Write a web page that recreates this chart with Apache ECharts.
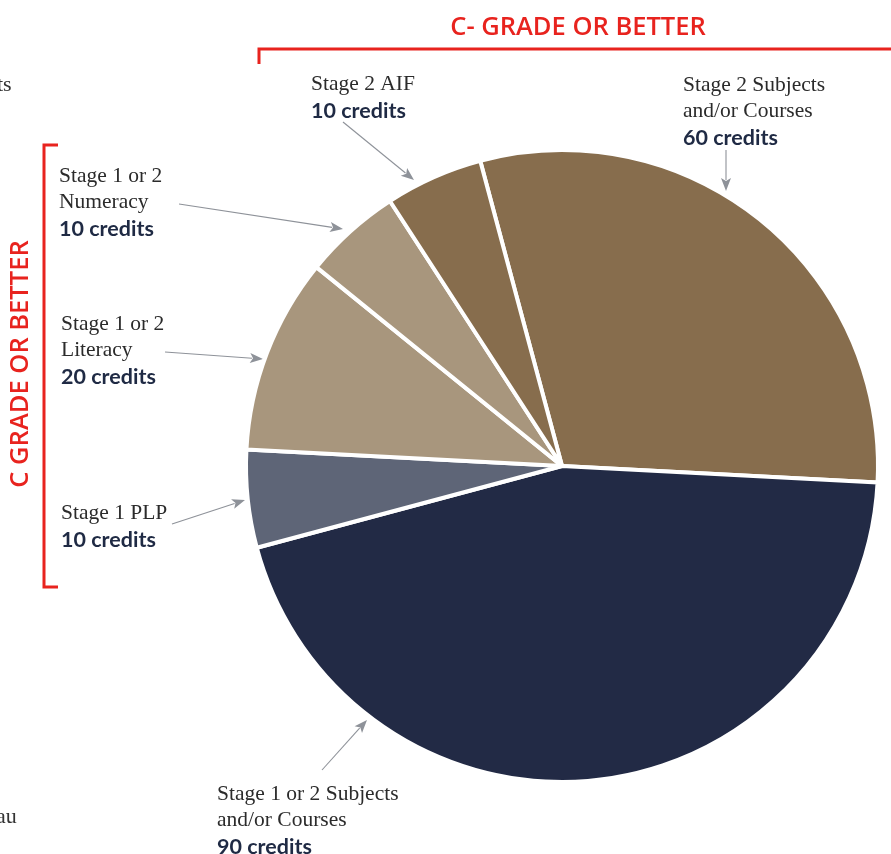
<!DOCTYPE html>
<html>
<head>
<meta charset="utf-8">
<script src="https://cdn.jsdelivr.net/npm/echarts@6/dist/echarts.min.js"></script>
<style>
html,body{margin:0;padding:0;background:#fff;}
#c{width:891px;height:854px;}
</style>
</head>
<body>
<div id="c"></div>
<script>
// ---- data ----
const categories = [
  'Stage 2 Subjects\nand/or Courses',
  'Stage 1 or 2 Subjects\nand/or Courses',
  'Stage 1 PLP',
  'Stage 1 or 2\nLiteracy',
  'Stage 1 or 2\nNumeracy',
  'Stage 2 AIF'
];
const credits = [60, 90, 10, 20, 10, 10];
const sliceColors = ['#876D4D', '#222A45', '#5E6577', '#A8967D', '#A8967D', '#876D4D'];
const topTitle = 'C- GRADE OR BETTER';
const sideTitle = 'C GRADE OR BETTER';

// ---- layout (annotation positions) ----
const labelPos = [[683, 72], [217, 781], [61, 500], [61, 311], [59, 163], [311, 71]];
const arrowFrom = [[726, 150], [322, 770], [172, 524], [165, 352], [179, 204], [343, 122]];
const arrowTo   = [[726, 191], [367, 720], [245, 500], [263, 359], [343, 229], [414, 180]];

const RED = '#E8231E';
const GREY = '#8E9299';

function arrow(from, to) {
  const dx = to[0] - from[0], dy = to[1] - from[1];
  const L = Math.sqrt(dx * dx + dy * dy);
  const ux = dx / L, uy = dy / L;
  const hl = 13, hw = 5;
  const bx = to[0] - ux * hl, by = to[1] - uy * hl;
  const px = -uy, py = ux;
  return [
    { type: 'line', silent: true, shape: { x1: from[0], y1: from[1], x2: bx + ux * 2, y2: by + uy * 2 },
      style: { stroke: GREY, lineWidth: 1.1 } },
    { type: 'polygon', silent: true, shape: { points: [[to[0], to[1]], [bx + px * hw, by + py * hw], [bx + ux * 3, by + uy * 3], [bx - px * hw, by - py * hw]] },
      style: { fill: GREY } }
  ];
}

let graphics = [];
for (let i = 0; i < arrowFrom.length; i++) graphics = graphics.concat(arrow(arrowFrom[i], arrowTo[i]));

// red brackets
graphics.push({ type: 'polyline', silent: true, shape: { points: [[259, 64], [259, 49], [891, 49]] }, style: { stroke: RED, lineWidth: 3, fill: null } });
graphics.push({ type: 'polyline', silent: true, shape: { points: [[58, 145], [44, 145], [44, 587], [58, 587]] }, style: { stroke: RED, lineWidth: 3, fill: null } });
graphics.push({ type: 'text', silent: true, x: 578, y: 28, style: { text: topTitle, fill: RED, fontFamily: 'Open Sans', fontWeight: 600, fontSize: 25.5, align: 'center', verticalAlign: 'middle' } });
graphics.push({ type: 'text', silent: true, x: 21, y: 364, rotation: Math.PI / 2, style: { text: sideTitle, fill: RED, fontFamily: 'Open Sans', fontWeight: 600, fontSize: 25.5, align: 'center', verticalAlign: 'middle' } });
// cut-off page fragments
graphics.push({ type: 'text', silent: true, x: -3, y: 85, style: { text: 'ts', fill: '#333', fontFamily: 'Liberation Serif', fontSize: 22, align: 'left', verticalAlign: 'middle' } });
graphics.push({ type: 'text', silent: true, x: -4, y: 817, style: { text: 'au', fill: '#333', fontFamily: 'Liberation Serif', fontSize: 22, align: 'left', verticalAlign: 'middle' } });

const chart = echarts.init(document.getElementById('c'), null, { renderer: 'canvas' });
chart.setOption({
  animation: false,
  backgroundColor: '#fff',
  graphic: graphics,
  series: [{
    type: 'pie',
    center: [562, 466],
    radius: 316,
    startAngle: 105,
    clockwise: true,
    avoidLabelOverlap: false,
    emphasis: { disabled: true },
    itemStyle: { borderColor: '#fff', borderWidth: 4 },
    data: categories.map((c, i) => ({ name: c, value: credits[i], itemStyle: { color: sliceColors[i] } })),
    label: {
      show: true,
      position: 'outside',
      formatter: p => p.name.split('\n').map(l => '{n|' + l + '}').join('\n') + '\n{c|' + p.value + ' credits}',
      rich: {
        n: { fontFamily: 'Liberation Serif', fontSize: 21.5, color: '#2b2b2b', lineHeight: 26.5 },
        c: { fontFamily: 'Lato', fontWeight: 'bold', fontSize: 21.5, color: '#1F2A44', lineHeight: 26.5 }
      }
    },
    labelLine: { show: false },
    labelLayout: p => ({ x: labelPos[p.dataIndex][0], y: labelPos[p.dataIndex][1], align: 'left', verticalAlign: 'top', hideOverlap: false, moveOverlap: null })
  }]
});
</script>
</body>
</html>
